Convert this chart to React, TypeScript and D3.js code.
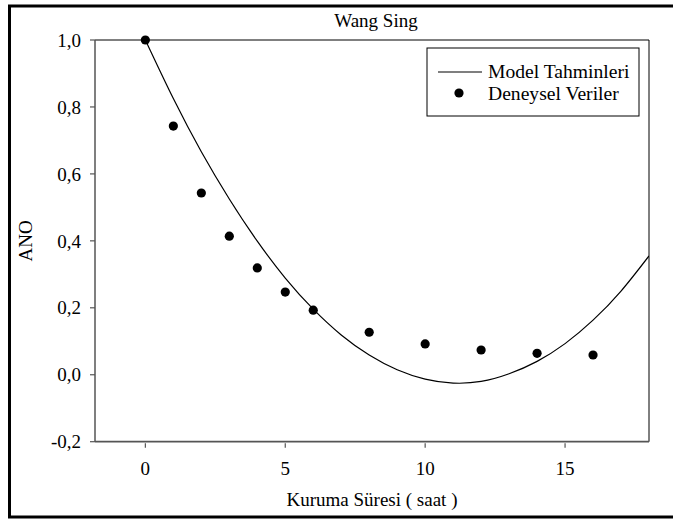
import React from 'react';
import * as d3 from 'd3';

// Deneysel veriler (okunan değerler)
const expTimes = [0, 1, 2, 3, 4, 5, 6, 8, 10, 12, 14, 16];
const expValues = [1.0, 0.743, 0.543, 0.414, 0.319, 0.247, 0.193, 0.127, 0.092, 0.074, 0.064, 0.059];

// Model eğrisi (grafikten okunan noktalar)
const modelTimes = [0, 1, 2, 3, 4, 5, 6, 7, 8, 9, 10, 11, 12, 13, 14, 15, 16, 17, 18];
const modelValues = [1.0, 0.825, 0.666, 0.525, 0.399, 0.289, 0.196, 0.119, 0.059, 0.015, -0.013, -0.025, -0.02, 0.003, 0.04, 0.093, 0.163, 0.25, 0.355];

const xTicks = [0, 5, 10, 15];
const yTicks = [-0.2, 0, 0.2, 0.4, 0.6, 0.8, 1.0];

const title = 'Wang Sing';
const xLabel = 'Kuruma Süresi ( saat )';
const yLabel = 'ANO';
const legendLabels = ['Model Tahminleri', 'Deneysel Veriler'];

const W = 673;
const H = 520;
const plot = { left: 95, right: 649, top: 40, bottom: 441.7 };
const font = "'Liberation Serif', 'DejaVu Serif', serif";

const fmtTick = (v: number) => d3.format('.1f')(v).replace('.', ',').replace('\u2212', '-');

const App = () => {
    const x = d3.scaleLinear().domain([-1.8, 18]).range([plot.left, plot.right]);
    const y = d3.scaleLinear().domain([-0.2, 1.0]).range([plot.bottom, plot.top]);

    const modelPts = modelTimes.map((t, i) => [t, modelValues[i]] as [number, number]);
    const line = d3.line<[number, number]>()
        .x(d => x(d[0]))
        .y(d => y(d[1]))
        .curve(d3.curveNatural);

    const legend = { x: 427, y: 48, w: 212, h: 68 };
    const txt = { fontFamily: font, fontSize: '19px' };
    const legTxt = { fontFamily: font, fontSize: '19.6px' };

    return (
        <svg width={W} height={H} style={{ position: 'absolute', left: 0, top: 0, background: '#fff' }}>
            <rect x={0} y={0} width={W} height={H} fill="#fff" />
            {/* outer frame */}
            <rect x={9.5} y={6} width={700} height={511} fill="none" stroke="#000" strokeWidth={3} />

            <text x={(plot.left + plot.right) / 2 + 4} y={27} textAnchor="middle" style={txt}>{title}</text>

            <defs>
                <clipPath id="plot-clip">
                    <rect x={plot.left} y={plot.top} width={plot.right - plot.left} height={plot.bottom - plot.top} />
                </clipPath>
            </defs>

            {/* frame top/right */}
            <line x1={plot.left} x2={plot.right} y1={plot.top} y2={plot.top} stroke="#000" strokeWidth={1} />
            <line x1={plot.right} x2={plot.right} y1={plot.top} y2={plot.bottom} stroke="#000" strokeWidth={1} />

            {/* model curve */}
            <path d={line(modelPts) || ''} fill="none" stroke="#000" strokeWidth={1.2} clipPath="url(#plot-clip)" />

            {/* data points */}
            {expTimes.map((t, i) => (
                <circle key={i} cx={x(t)} cy={y(expValues[i])} r={4.6} fill="#000" />
            ))}

            {/* axes */}
            <line x1={plot.left} x2={plot.left} y1={plot.top} y2={plot.bottom} stroke="#555" strokeWidth={1.5} />
            <line x1={plot.left} x2={plot.right} y1={plot.bottom} y2={plot.bottom} stroke="#555" strokeWidth={1.8} />

            {yTicks.map(v => (
                <g key={v}>
                    <line x1={plot.left - 5} x2={plot.left} y1={y(v)} y2={y(v)} stroke="#555" strokeWidth={1.2} />
                    <text x={81} y={y(v)} dy="0.35em" textAnchor="end" style={txt}>{fmtTick(v)}</text>
                </g>
            ))}
            {xTicks.map(v => (
                <g key={v}>
                    <line x1={x(v)} x2={x(v)} y1={plot.bottom + 1.5} y2={plot.bottom + 6} stroke="#555" strokeWidth={1.2} />
                    <text x={x(v)} y={475} textAnchor="middle" style={txt}>{v}</text>
                </g>
            ))}

            <text x={(plot.left + plot.right) / 2} y={506} textAnchor="middle" style={txt}>{xLabel}</text>
            <text transform={`translate(32, ${(plot.top + plot.bottom) / 2}) rotate(-90)`} textAnchor="middle" style={txt}>{yLabel}</text>

            {/* legend */}
            <rect x={legend.x} y={legend.y} width={legend.w} height={legend.h} fill="#fff" stroke="#000" strokeWidth={1} />
            <line x1={438} x2={482} y1={72} y2={72} stroke="#000" strokeWidth={1.2} />
            <text x={488} y={77.5} style={legTxt}>{legendLabels[0]}</text>
            <circle cx={459} cy={93} r={4.6} fill="#000" />
            <text x={488} y={100} style={legTxt}>{legendLabels[1]}</text>
        </svg>
    );
};

export default App;
